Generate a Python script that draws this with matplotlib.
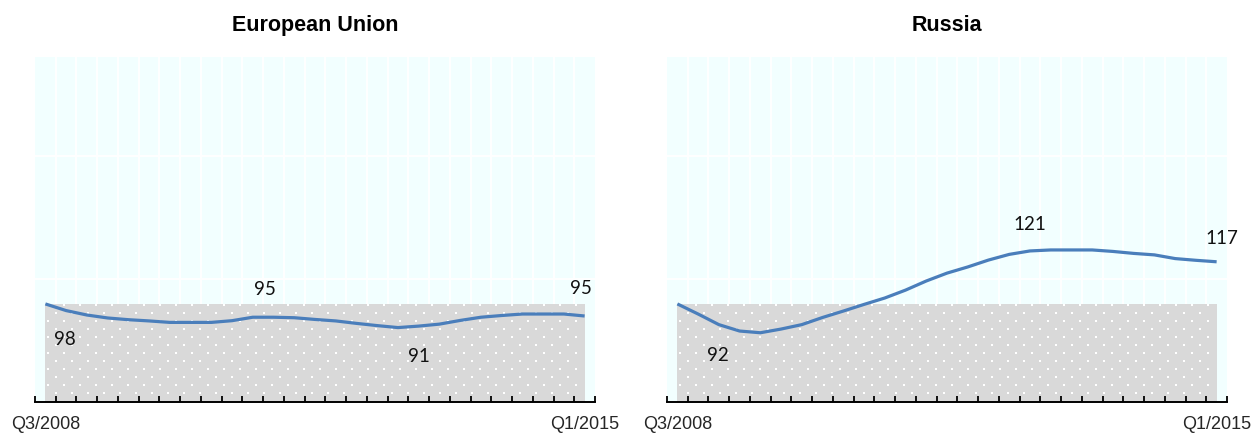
import numpy as np
import matplotlib
matplotlib.use("Agg")
import matplotlib.pyplot as plt
from matplotlib import font_manager as fm

# ---------------- data ----------------
quarters = ["Q3/2008", "Q4/2008",
            "Q1/2009", "Q2/2009", "Q3/2009", "Q4/2009",
            "Q1/2010", "Q2/2010", "Q3/2010", "Q4/2010",
            "Q1/2011", "Q2/2011", "Q3/2011", "Q4/2011",
            "Q1/2012", "Q2/2012", "Q3/2012", "Q4/2012",
            "Q1/2013", "Q2/2013", "Q3/2013", "Q4/2013",
            "Q1/2014", "Q2/2014", "Q3/2014", "Q4/2014",
            "Q1/2015"]

eu_values = [39.8, 37.1, 35.3, 34.1, 33.4, 32.9, 32.3, 32.3, 32.3, 33.0,
             34.4, 34.4, 34.2, 33.5, 32.9, 31.9, 31.0, 30.2, 30.8, 31.6,
             33.1, 34.4, 35.1, 35.7, 35.7, 35.7, 34.9]

ru_values = [39.8, 35.7, 31.4, 28.8, 28.1, 29.6, 31.4, 34.3, 36.9, 39.6,
             42.2, 45.4, 49.1, 52.3, 54.8, 57.6, 59.9, 61.3, 61.7, 61.7,
             61.7, 61.1, 60.3, 59.7, 58.2, 57.5, 56.9]

panel_titles = ["European Union", "Russia"]

eu_label_idx = [1, 11, 17, 26]
eu_label_txt = ["98", "95", "91", "95"]
ru_label_idx = [2, 17, 26]
ru_label_txt = ["92", "121", "117"]

tick_labels = [quarters[0], quarters[-1]]

# ---------------- fonts ----------------
def has_font(name):
    try:
        fm.findfont(fm.FontProperties(family=name), fallback_to_default=False)
        return True
    except Exception:
        return False

if has_font("Liberation Sans Narrow"):
    title_family = "Liberation Sans Narrow"
    title_size = 18.5
else:
    title_family = "Liberation Sans"
    title_size = 15.5
label_family = "Lato" if has_font("Lato") else "DejaVu Sans"

# ---------------- style ----------------
BG = "#F2FFFF"
GRAY = "#D9D9D9"
LINE = "#4A7EBB"
DPI = 100

fig = plt.figure(figsize=(12.6, 4.38), dpi=DPI)

def draw_panel(rect, values, title, lab_idx, lab_txt, offsets):
    ax = fig.add_axes(rect)
    n = len(values)
    x = np.arange(n)
    ax.set_xlim(-0.5, n - 0.5)
    ax.set_ylim(0, 140)
    ax.set_facecolor(BG)
    for s in ["top", "right", "left"]:
        ax.spines[s].set_visible(False)
    ax.spines["bottom"].set_linewidth(1.4)
    ax.spines["bottom"].set_color("black")
    ax.spines["bottom"].set_zorder(5)

    # white grid (drawn manually, below grey block)
    bounds = np.arange(-0.5, n, 1.0)
    for b in bounds[1:-1]:
        ax.axvline(b, color="white", lw=1.4, zorder=0.5)
    for g in [50, 100]:
        ax.axhline(g, color="white", lw=1.4, zorder=0.5)

    ax.set_xticks(bounds, minor=True)
    ax.tick_params(axis="y", left=False, labelleft=False)
    ax.tick_params(axis="x", which="minor", direction="in", length=4.5,
                   width=1.3, color="black")
    ax.set_xticks([x[0], x[-1]])
    ax.set_xticklabels(tick_labels, fontsize=13, family="Liberation Sans",
                       color="#262626")
    ax.tick_params(axis="x", which="major", length=0, pad=10)
    ax.xaxis.set_zorder(5)

    # grey reference block (level of first quarter)
    ax.fill_between([x[0], x[-1]], 0, values[0], color=GRAY, lw=0, zorder=1)

    # dotted texture inside the block (display-space lattice)
    trans = ax.transData
    (px0, py0) = trans.transform((x[0], 0))
    (px1, py1) = trans.transform((x[-1], values[0]))
    pts = []
    row = 0
    yy = py1 - 1.5
    while yy > py0 + 1:
        xx = px0 + (3 if row % 2 == 0 else 11)
        while xx < px1 - 1:
            pts.append((xx, yy))
            xx += 16
        yy -= 8
        row += 1
    pts = np.array(pts)
    dpts = trans.inverted().transform(pts)
    ax.scatter(dpts[:, 0], dpts[:, 1], s=3.6, marker="s", color="white",
               linewidths=0, zorder=2)

    # line
    ax.plot(x, values, color=LINE, lw=2.3, zorder=3, solid_capstyle="butt")

    # labels
    for i, t, off in zip(lab_idx, lab_txt, offsets):
        ax.annotate(t, xy=(x[i], values[i]), xytext=off,
                    textcoords="offset points", ha="center", va="center",
                    fontsize=13.5, family=label_family, color="#111111")

    ax.set_title(title, fontsize=title_size, family=title_family,
                 fontweight="bold", pad=19)
    return ax

W = 560 / 1260
H = 345 / 438
B = 36 / 438

draw_panel([35 / 1260, B, W, H], eu_values, panel_titles[0],
           eu_label_idx, eu_label_txt,
           [(-0.7, -21), (-6, 20), (15, -21), (-2.5, 20)])
draw_panel([667 / 1260, B, W, H], ru_values, panel_titles[1],
           ru_label_idx, ru_label_txt,
           [(-1, -22), (0, 19), (4, 17)])

fig.savefig("out.png", dpi=DPI, facecolor="white")
